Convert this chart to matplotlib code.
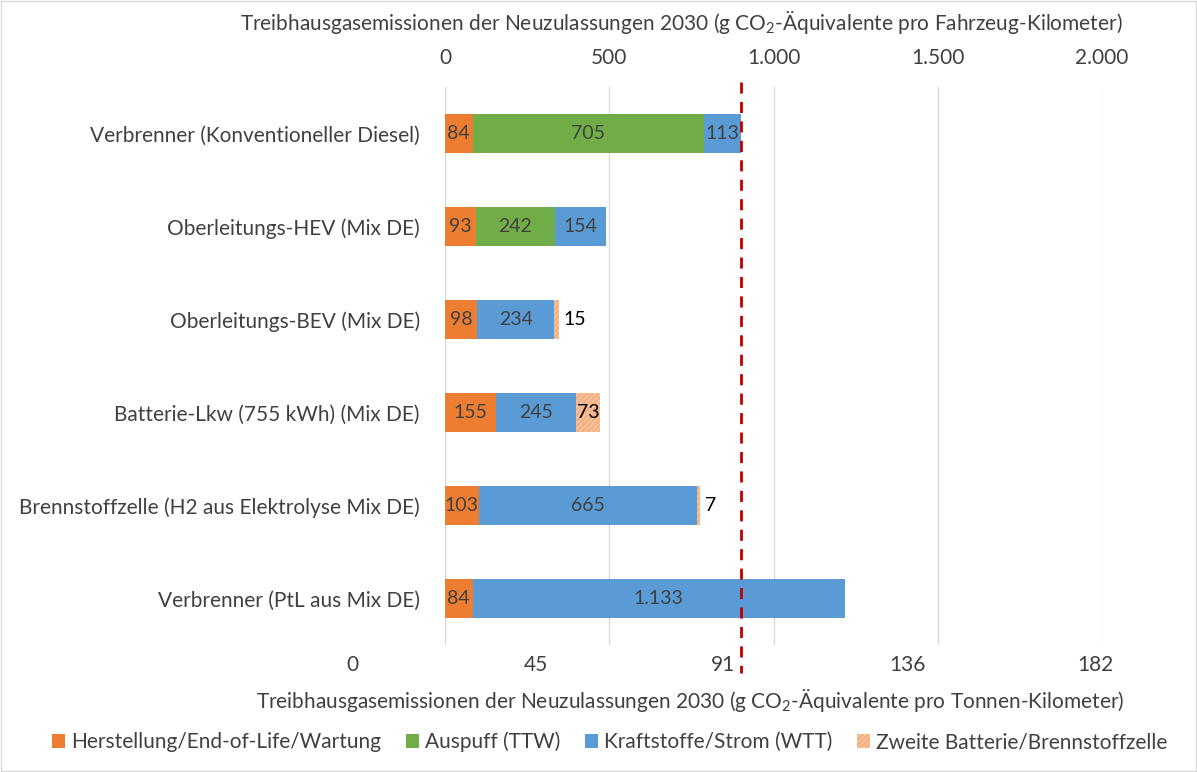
import matplotlib.pyplot as plt
from matplotlib.patches import Patch, Rectangle

plt.rcParams['font.family'] = ['Lato', 'DejaVu Sans']
plt.rcParams['hatch.color'] = '#F8CBAD'
plt.rcParams['hatch.linewidth'] = 0.8

categories = ['Verbrenner (Konventioneller Diesel)', 'Oberleitungs-HEV (Mix DE)',
              'Oberleitungs-BEV (Mix DE)', 'Batterie-Lkw (755 kWh) (Mix DE)',
              'Brennstoffzelle (H2 aus Elektrolyse Mix DE)', 'Verbrenner (PtL aus Mix DE)']
herstellung = [84, 93, 98, 155, 103, 84]
auspuff = [705, 242, 0, 0, 0, 0]
kraftstoffe = [113, 154, 234, 245, 665, 1133]
zweite = [0, 0, 15, 73, 7, 0]
diesel_ref = 902

top_ticks = [0, 500, 1000, 1500, 2000]
top_labels = ['0', '500', '1.000', '1.500', '2.000']
bottom_ticks = [0, 45, 91, 136, 182]

c_orange = '#ED7D31'
c_green = '#70AD47'
c_blue = '#5B9BD5'
c_hatch = '#F4B183'
txt = '#404040'
fs = 15

def fmt(v):
    return f'{v:,}'.replace(',', '.')

W, H = 1197, 772
fig = plt.figure(figsize=(W / 100, H / 100), dpi=100)
fig.patches.append(Rectangle((0.001, 0.001), 0.998, 0.998, transform=fig.transFigure,
                             fill=False, edgecolor='#D9D9D9', lw=1))

ax = fig.add_axes([445 / W, 1 - 645 / H, (1102 - 445) / W, (645 - 87) / H])
y = list(range(len(categories)))
hb = 0.41

left = [0] * len(y)
segs = [(herstellung, c_orange, None, txt),
        (auspuff, c_green, None, txt),
        (kraftstoffe, c_blue, None, txt),
        (zweite, c_hatch, '//////', 'black')]
for vals, col, hatch, tc in segs:
    for i, v in enumerate(vals):
        if v == 0:
            continue
        ax.barh(y[i], v, left=left[i], height=hb, color=col, hatch=hatch,
                edgecolor='#F8CBAD' if hatch else col, lw=0, zorder=3)
        if v >= 50:
            ax.text(left[i] + v / 2, y[i], fmt(v), ha='center', va='center',
                    fontsize=14, color=tc, zorder=4)
        else:
            ax.text(left[i] + v + 15, y[i], fmt(v), ha='left', va='center',
                    fontsize=14, color=tc, zorder=4)
        left[i] += v

ax.set_ylim(len(y) - 0.5, -0.5)
ax.set_xlim(0, 2000)
ax.set_yticks(y)
ax.set_yticklabels(categories, fontsize=fs, color=txt)
ax.tick_params(axis='y', length=0, pad=18)
ax.xaxis.tick_top()
ax.xaxis.set_label_position('top')
ax.set_xticks(top_ticks)
ax.set_xticklabels(top_labels, fontsize=fs, color=txt)
ax.tick_params(axis='x', length=0, pad=14)
ax.grid(axis='x', color='#D9D9D9', lw=1, zorder=0)
for s in ax.spines.values():
    s.set_visible(False)
ax.plot([diesel_ref, diesel_ref], [-0.55, 5.8], color='#C00000', lw=2, ls=(0, (4, 3)),
        clip_on=False, zorder=5)

fig.text(681 / W, 1 - 23 / H,
         'Treibhausgasemissionen der Neuzulassungen 2030 (g CO$_\\mathregular{2}$-Äquivalente pro Fahrzeug-Kilometer)',
         ha='center', va='center', fontsize=fs, color=txt)

# secondary bottom scale (tonne-km)
ax2 = fig.add_axes([352 / W, 1 - 655 / H, (1095 - 352) / W, 0.001])
ax2.set_xlim(0, 182)
ax2.set_xticks(bottom_ticks)
ax2.set_xticklabels([str(t) for t in bottom_ticks], fontsize=fs, color=txt)
ax2.tick_params(axis='x', length=0, pad=0)
ax2.set_yticks([])
for s in ax2.spines.values():
    s.set_visible(False)
ax2.patch.set_visible(False)
fig.text(690 / W, 1 - 700 / H,
         'Treibhausgasemissionen der Neuzulassungen 2030 (g CO$_\\mathregular{2}$-Äquivalente pro Tonnen-Kilometer)',
         ha='center', va='center', fontsize=fs, color=txt)

handles = [Patch(facecolor=c_orange, label='Herstellung/End-of-Life/Wartung'),
           Patch(facecolor=c_green, label='Auspuff (TTW)'),
           Patch(facecolor=c_blue, label='Kraftstoffe/Strom (WTT)'),
           Patch(facecolor=c_hatch, hatch='//////', edgecolor='#F8CBAD', lw=0,
                 label='Zweite Batterie/Brennstoffzelle')]
leg = fig.legend(handles=handles, loc='center', bbox_to_anchor=(610 / W, 1 - 742 / H), ncol=4,
                 frameon=False, fontsize=fs, handlelength=0.6, handleheight=0.6,
                 handletextpad=0.3, columnspacing=1.2)
for t in leg.get_texts():
    t.set_color(txt)

fig.savefig('out.png', dpi=100)
